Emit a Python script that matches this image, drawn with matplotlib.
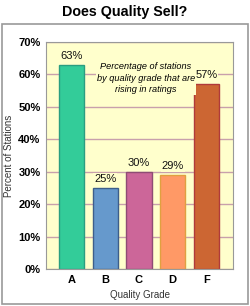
import matplotlib.pyplot as plt
from matplotlib.patches import Rectangle

# Данные
grades = ['A', 'B', 'C', 'D', 'F']
values = [63, 25, 30, 29, 57]
colors = ['#33CC99', '#6699CC', '#CC6699', '#FF9966', '#CC6633']
edges = ['#2A9E80', '#3D5E8A', '#8E4C74', '#E0A040', '#B03A3A']
yticks = [0, 10, 20, 30, 40, 50, 60, 70]

fig = plt.figure(figsize=(2.5, 3.06), dpi=100)
plt.rcParams['font.family'] = ['Liberation Sans', 'DejaVu Sans']

# Рамка вокруг графика
fig.patches.append(Rectangle((0.006, 0.008), 0.986, 0.912, transform=fig.transFigure,
                             fill=False, edgecolor='#999999', linewidth=1.2))

fig.text(0.5, 0.96, 'Does Quality Sell?', ha='center', va='center',
         fontsize=10.3, fontweight='bold')

ax = fig.add_axes([0.184, 0.121, 0.748, 0.742])
ax.set_facecolor('#FFFFCC')
ax.set_axisbelow(True)
ax.yaxis.grid(True, color='#C8A0AC', linewidth=1)

x = range(len(grades))
ax.bar(x, values, width=0.74, color=colors, edgecolor=edges, linewidth=1)

for i, v in enumerate(values):
    ax.text(i, v + 1.2, f'{v}%', ha='center', va='bottom', fontsize=8,
            color='#111111',
            bbox=dict(facecolor='#FFFFCC', edgecolor='none', pad=0.5))

ax.text(2.2, 58.8, 'Percentage of stations\nby quality grade that are\nrising in ratings',
        ha='center', va='center', fontsize=6.6, style='italic', linespacing=1.35,
        bbox=dict(facecolor='#FFFFCC', edgecolor='none', pad=0.5))

ax.set_xlim(-0.75, 4.78)
ax.set_ylim(0, 70)
ax.set_yticks(yticks)
ax.set_yticklabels([f'{t}%' for t in yticks], fontsize=8, fontweight='bold')
ax.set_xticks(list(x))
ax.set_xticklabels(grades, fontsize=8, fontweight='bold')
ax.tick_params(length=0, pad=4)
for s in ax.spines.values():
    s.set_color('#999999')

ax.set_ylabel('Percent of Stations', fontsize=7, color='#333333', labelpad=3)
ax.set_xlabel('Quality Grade', fontsize=7, color='#333333', labelpad=4)

plt.savefig('out.png', dpi=100)
